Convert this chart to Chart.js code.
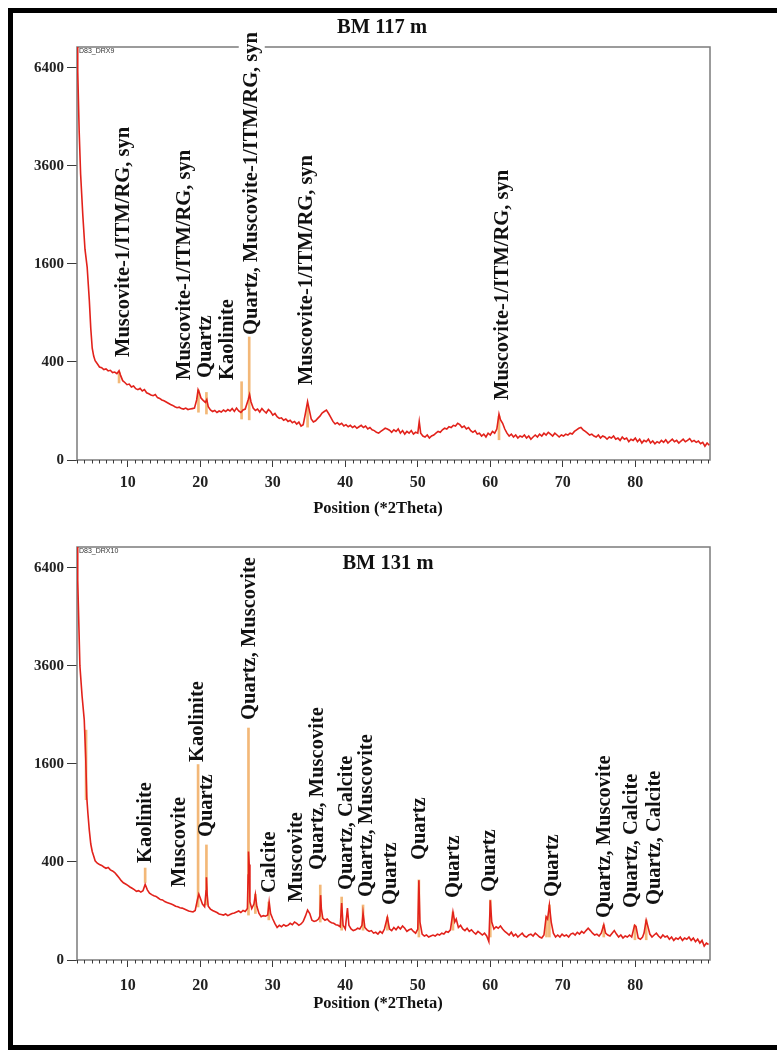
<!DOCTYPE html>
<html><head><meta charset="utf-8">
<script src="https://cdn.jsdelivr.net/npm/chart.js@4.4.1/dist/chart.umd.min.js"></script>
<style>
html,body{margin:0;padding:0;background:#fff;overflow:hidden;width:777px;height:1050px;}
#frame{position:absolute;left:8px;top:8px;width:800px;height:1042px;border:5px solid #000;box-sizing:border-box;pointer-events:none;}
canvas{position:absolute;left:0;}
#c1{top:0;} #c2{top:525px;}
</style></head><body>
<canvas id="c1" width="777" height="525"></canvas>
<canvas id="c2" width="777" height="525"></canvas>
<div id="frame"></div>
<script>
// ---------- axis ticks ----------
const xTicks = [10, 20, 30, 40, 50, 60, 70, 80];
const yTicks = [0, 400, 1600, 3600, 6400];

// ---------- BM 117 m : pattern (Position °2Theta, counts) ----------
const bm117Theta = [
 3.0,3.1,3.3,3.5,3.8,4.1,4.4,4.7,4.9,5.1,
 5.3,5.5,5.8,6.1,6.4,6.7,7.0,7.3,7.6,7.9,
 8.2,8.5,8.8,9.0,9.3,9.6,9.9,10.2,10.5,10.8,
 11.1,11.4,11.7,12.0,12.3,12.6,12.9,13.2,13.5,13.8,
 14.1,14.4,14.7,15.0,15.3,15.6,15.9,16.2,16.5,16.8,
 17.1,17.4,17.7,18.0,18.3,18.6,18.9,19.2,19.5,19.7,
 19.9,20.1,20.4,20.7,20.9,21.1,21.4,21.7,22.0,22.3,
 22.6,22.9,23.2,23.5,23.8,24.1,24.4,24.7,25.0,25.3,
 25.6,25.9,26.2,26.6,26.8,27.0,27.3,27.6,27.9,28.2,
 28.5,28.8,29.1,29.4,29.7,30.0,30.3,30.6,30.9,31.2,
 31.5,31.8,32.1,32.4,32.7,33.0,33.3,33.6,33.9,34.2,
 34.5,34.8,35.0,35.3,35.6,35.9,36.2,36.5,36.8,37.1,
 37.4,37.7,38.0,38.3,38.6,38.9,39.2,39.5,39.8,40.1,
 40.4,40.7,41.0,41.3,41.6,41.9,42.2,42.5,42.8,43.1,
 43.4,43.7,44.0,44.3,44.6,44.9,45.2,45.5,45.8,46.1,
 46.4,46.7,47.0,47.3,47.6,47.9,48.2,48.5,48.8,49.1,
 49.4,49.7,50.0,50.2,50.4,50.7,51.0,51.3,51.6,51.9,
 52.2,52.5,52.8,53.1,53.4,53.7,54.0,54.3,54.6,54.9,
 55.2,55.5,55.8,56.1,56.4,56.7,57.0,57.3,57.6,57.9,
 58.2,58.5,58.8,59.1,59.4,59.7,60.0,60.3,60.6,60.9,
 61.2,61.4,61.7,62.0,62.3,62.6,62.9,63.2,63.5,63.8,
 64.1,64.4,64.7,65.0,65.3,65.6,65.9,66.2,66.5,66.8,
 67.1,67.4,67.7,68.0,68.3,68.6,68.9,69.2,69.5,69.8,
 70.1,70.4,70.7,71.0,71.3,71.6,71.9,72.2,72.5,72.8,
 73.1,73.4,73.7,74.0,74.3,74.6,74.9,75.2,75.5,75.8,
 76.1,76.4,76.7,77.0,77.3,77.6,77.9,78.2,78.5,78.8,
 79.1,79.4,79.7,80.0,80.3,80.6,80.9,81.2,81.5,81.8,
 82.1,82.4,82.7,83.0,83.3,83.6,83.9,84.2,84.5,84.8,
 85.1,85.4,85.7,86.0,86.3,86.6,86.9,87.2,87.5,87.8,
 88.1,88.4,88.7,89.0,89.3,89.6,89.9,90.2
];
const bm117Counts = [
 7400,6300,4500,3400,2500,1850,1550,1060,720,520,
 450,410,385,360,355,340,345,330,335,318,
 322,310,332,300,262,250,236,240,222,228,
 212,206,214,198,206,188,183,176,172,178,
 162,158,150,146,140,134,128,124,118,114,
 116,110,108,112,106,108,110,112,150,205,
 185,160,148,138,152,118,104,98,102,94,
 100,96,104,98,106,100,110,98,112,100,
 94,104,108,150,178,140,112,102,108,96,
 110,100,92,106,98,84,90,78,72,74,
 66,70,62,66,58,62,54,60,48,52,
 90,142,110,70,60,64,72,80,92,98,
 104,90,76,62,54,58,52,56,48,52,
 46,50,44,48,42,46,50,44,48,40,
 44,38,36,32,30,34,38,42,40,37,
 32,38,34,40,30,36,28,34,30,36,
 28,32,30,62,30,24,22,26,20,24,
 26,30,34,32,38,42,40,46,44,50,
 48,56,52,44,48,40,44,36,32,36,
 28,30,24,28,22,30,26,34,30,40,
 88,68,56,40,30,24,28,22,26,20,
 24,22,26,20,24,18,22,26,22,28,
 24,30,26,32,28,24,30,26,22,26,
 24,28,26,30,28,34,38,42,44,38,
 34,30,26,28,24,22,26,20,24,22,
 18,22,20,24,18,20,16,22,18,20,
 14,18,16,20,14,18,12,16,14,18,
 12,15,11,14,12,16,13,17,12,15,
 18,14,16,12,15,18,14,16,19,14,
 16,13,15,11,13,8,12,9
];
// reference sticks
const bm117StickTheta = [8.8, 19.75, 20.85, 25.7, 26.75, 34.8, 61.2];
const bm117StickLow   = [247, 95, 88, 70, 67, 45, 17];
const bm117StickHigh  = [322, 204, 190, 255, 630, 120, 80];
// phase labels
const bm117LabelText  = ["Muscovite-1/ITM/RG, syn", "Muscovite-1/ITM/RG, syn", "Quartz", "Kaolinite",
                         "Quartz, Muscovite-1/ITM/RG, syn", "Muscovite-1/ITM/RG, syn", "Muscovite-1/ITM/RG, syn"];
const bm117LabelTheta = [9.38, 17.86, 20.76, 23.79, 27.1, 34.69, 61.72];
const bm117LabelAt    = [442, 267, 280, 267, 651, 234, 150];

// ---------- BM 131 m ----------
const bm131Theta = [
 3.0,3.1,3.4,3.7,4.0,4.2,4.35,4.5,4.7,4.9,
 5.1,5.3,5.5,5.8,6.1,6.4,6.7,7.0,7.3,7.6,
 7.9,8.2,8.5,8.8,9.1,9.4,9.7,10.0,10.3,10.6,
 10.9,11.2,11.5,11.8,12.1,12.4,12.7,13.0,13.3,13.6,
 13.9,14.2,14.5,14.8,15.1,15.4,15.7,16.0,16.3,16.6,
 16.9,17.2,17.5,17.8,18.1,18.4,18.7,19.0,19.3,19.6,
 19.8,20.0,20.3,20.6,20.8,20.85,20.95,21.1,21.4,21.7,
 22.0,22.3,22.6,22.9,23.2,23.5,23.8,24.1,24.4,24.7,
 25.0,25.3,25.6,25.9,26.2,26.5,26.6,26.65,26.75,26.85,
 27.1,27.4,27.6,27.8,28.1,28.4,28.7,29.0,29.3,29.5,
 29.7,30.0,30.3,30.6,30.9,31.2,31.5,31.8,32.1,32.4,
 32.7,33.0,33.3,33.6,33.9,34.2,34.5,34.8,35.1,35.4,
 35.7,36.0,36.3,36.5,36.6,36.7,36.9,37.2,37.5,37.8,
 38.1,38.4,38.7,39.0,39.3,39.5,39.7,40.0,40.3,40.5,
 40.8,41.1,41.4,41.7,42.0,42.3,42.45,42.7,43.0,43.3,
 43.6,43.9,44.2,44.5,44.8,45.1,45.4,45.8,46.1,46.4,
 46.7,47.0,47.3,47.6,47.9,48.2,48.5,48.8,49.1,49.4,
 49.7,50.0,50.15,50.3,50.6,50.9,51.2,51.5,51.8,52.1,
 52.4,52.7,53.0,53.3,53.6,53.9,54.2,54.5,54.85,55.1,
 55.3,55.6,55.9,56.2,56.5,56.8,57.1,57.4,57.7,58.0,
 58.3,58.6,58.9,59.2,59.5,59.8,60.0,60.2,60.5,60.8,
 61.1,61.4,61.7,62.0,62.3,62.6,62.9,63.2,63.5,63.8,
 64.1,64.4,64.7,65.0,65.3,65.6,65.9,66.2,66.5,66.8,
 67.1,67.4,67.7,67.9,68.15,68.4,68.7,69.0,69.3,69.6,
 69.9,70.2,70.5,70.8,71.1,71.4,71.7,72.0,72.3,72.6,
 72.9,73.2,73.5,73.8,74.1,74.4,74.7,75.0,75.3,75.65,
 75.9,76.2,76.5,76.8,77.1,77.4,77.7,78.0,78.3,78.6,
 78.9,79.2,79.5,79.9,80.1,80.4,80.7,81.0,81.2,81.5,
 81.7,82.0,82.3,82.6,82.9,83.2,83.5,83.8,84.1,84.4,
 84.7,85.0,85.3,85.6,85.9,86.2,86.5,86.8,87.1,87.4,
 87.7,88.0,88.3,88.6,88.9,89.2,89.5,89.8,90.1
];
const bm131Counts = [
 7400,6000,3600,2900,2400,1700,1100,900,700,560,
 490,450,410,390,380,372,360,350,356,338,
 330,318,300,282,262,248,240,232,222,214,
 206,196,200,192,200,238,205,186,178,172,
 168,160,152,150,142,138,134,130,126,120,
 118,114,112,108,104,100,98,96,102,150,
 180,160,130,118,200,285,180,120,108,102,
 98,94,88,86,84,88,82,86,90,92,
 96,100,94,102,98,110,300,490,380,140,
 110,130,178,120,90,78,82,80,84,140,
 90,70,55,44,50,46,52,48,50,56,
 52,60,56,50,54,62,80,104,90,66,
 62,64,70,80,175,110,72,66,70,62,
 58,56,52,50,46,135,50,40,112,50,
 40,36,38,42,40,50,92,44,38,34,
 36,30,32,28,34,30,40,76,40,36,
 44,38,46,40,48,42,34,38,40,34,
 30,40,265,60,28,24,26,22,24,26,
 24,28,26,30,28,34,32,38,96,60,
 70,44,50,40,36,42,34,38,32,28,
 34,30,26,30,24,14,148,60,40,46,
 42,48,40,34,30,26,32,24,28,22,
 26,30,24,22,26,28,24,30,26,22,
 20,26,78,70,126,60,30,22,26,22,
 28,24,26,22,28,30,26,32,28,34,
 30,36,42,36,30,26,28,24,30,52,
 30,26,24,30,36,28,22,26,20,24,
 22,26,22,50,46,20,18,22,30,66,
 50,28,22,26,30,24,20,26,22,24,
 18,22,16,20,18,22,16,20,18,22,
 16,20,14,18,12,16,8,12,10
];
const bm131StickTheta = [4.25, 12.4, 19.7, 20.85, 26.65, 27.6, 29.45, 36.55, 39.5, 42.45, 45.8, 50.15, 54.85, 60.0, 67.75, 68.15, 75.65, 79.95, 81.5];
const bm131StickLow   = [1070, 250, 117, 126, 84, 90, 67, 60, 37, 37, 37, 22, 37, 22, 22, 22, 22, 17, 17];
const bm131StickHigh  = [2200, 352, 1590, 551, 2240, 180, 140, 234, 165, 126, 77, 267, 96, 150, 77, 126, 51, 51, 67];
const bm131LabelText  = ["Kaolinite", "Muscovite", "Kaolinite", "Quartz", "Quartz, Muscovite", "Calcite", "Muscovite",
                         "Quartz, Muscovite", "Quartz, Calcite", "Quartz, Muscovite", "Quartz", "Quartz", "Quartz",
                         "Quartz", "Quartz", "Quartz, Muscovite", "Quartz, Calcite", "Quartz, Calcite"];
const bm131LabelTheta = [12.41, 17.1, 19.66, 20.9, 26.83, 29.59, 33.31, 36.2, 40.2, 42.97, 46.28, 50.28, 54.97, 59.93, 68.62, 75.79, 79.52, 82.69];
const bm131LabelAt    = [392, 222, 1633, 630, 2399, 187, 140, 337, 204, 165, 126, 416, 160, 193, 165, 73, 113, 126];

// ---------- style ----------
const SERIF = '"Liberation Serif", "Times New Roman", serif';
const RED = '#e2221b';
const ORANGE = '#f3b878';
const FRAME = '#7b7b7b';
const TICK = '#3a3a3a';

// square-root intensity scale
class SqrtScale extends Chart.LinearScale {
  static id = 'sqrt';
  static defaults = Chart.LinearScale.defaults;
  configure() {
    super.configure();
    this._s0 = Math.sqrt(Math.max(0, this.min));
    this._s1 = Math.sqrt(Math.max(0, this.max));
  }
  getPixelForValue(value) {
    if (value === null || value === undefined || isNaN(value)) return NaN;
    const s = Math.sqrt(Math.max(0, value));
    return this.getPixelForDecimal((s - this._s0) / (this._s1 - this._s0));
  }
  getValueForPixel(pixel) {
    const d = this.getDecimalForPixel(pixel);
    const s = this._s0 + d * (this._s1 - this._s0);
    return s * s;
  }
}
Chart.register(SqrtScale);

function overlay(cfg) {
  return {
    id: 'overlay',
    beforeDatasetsDraw(chart) {
      const { ctx, chartArea: a } = chart;
      ctx.save();
      ctx.strokeStyle = FRAME; ctx.lineWidth = 1.5;
      ctx.strokeRect(a.left, a.top, a.right - a.left, a.bottom - a.top);
      ctx.restore();
    },
    afterDraw(chart) {
      const { ctx, chartArea: a, scales } = chart;
      const x = scales.x, y = scales.y;
      ctx.save();
      // minor ticks every degree
      ctx.strokeStyle = TICK; ctx.lineWidth = 1;
      ctx.beginPath();
      for (let v = Math.ceil(x.min); v <= Math.floor(x.max); v++) {
        if (xTicks.includes(v)) continue;
        const px = Math.round(x.getPixelForValue(v)) + 0.5;
        ctx.moveTo(px, a.bottom); ctx.lineTo(px, a.bottom + 3.5);
      }
      ctx.stroke();
      // file tag
      ctx.fillStyle = '#333'; ctx.font = '7px "Liberation Sans", sans-serif';
      ctx.textAlign = 'left'; ctx.textBaseline = 'top';
      ctx.fillText(cfg.tag, a.left + 2, a.top + 1);
      // titles
      ctx.fillStyle = '#111'; ctx.textAlign = 'center'; ctx.textBaseline = 'middle';
      ctx.font = 'bold 20.5px ' + SERIF;
      ctx.fillText(cfg.title, cfg.titleX, cfg.titleY);
      ctx.font = 'bold 16.5px ' + SERIF;
      ctx.fillText('Position (*2Theta)', cfg.axisTitleX, cfg.axisTitleY);
      // phase labels
      ctx.font = 'bold 20.5px ' + SERIF;
      ctx.textAlign = 'left'; ctx.textBaseline = 'middle';
      cfg.labelText.forEach((t, i) => {
        const px = x.getPixelForValue(cfg.labelTheta[i]);
        const py = y.getPixelForValue(cfg.labelAt[i]);
        const w = ctx.measureText(t).width;
        if (py - w - 2 < a.top) {
          ctx.fillStyle = '#fff';
          ctx.fillRect(px - 13, py - w - 4, 26, w + 4);
        }
        ctx.save();
        ctx.translate(px, py); ctx.rotate(-Math.PI / 2);
        ctx.fillStyle = '#111';
        ctx.fillText(t, 0, 0);
        ctx.restore();
      });
      ctx.restore();
    }
  };
}

function buildChart(id, s, L) {
  const lineData = s.theta.map((t, i) => ({ x: t, y: s.counts[i] }));
  const stickData = s.stickTheta.map((t, i) => ({ x: t, y: [s.stickLow[i], s.stickHigh[i]] }));
  return new Chart(document.getElementById(id), {
    type: 'line',
    data: {
      datasets: [
        { type: 'line', data: lineData, borderColor: RED, borderWidth: 1.6, pointRadius: 0,
          tension: 0, fill: false, order: 1 },
        { type: 'bar', data: stickData, backgroundColor: ORANGE, barThickness: 2,
          grouped: false, borderWidth: 0, order: 2 }
      ]
    },
    options: {
      responsive: false, animation: false, devicePixelRatio: 1,
      layout: { padding: { left: 0, right: 67, top: L.padTop, bottom: 0 } },
      plugins: { legend: { display: false }, tooltip: { enabled: false }, title: { display: false } },
      scales: {
        x: {
          type: 'linear', min: 3, max: 90.3, offset: false,
          afterBuildTicks: sc => { sc.ticks = xTicks.map(v => ({ value: v })); },
          afterFit: sc => { sc.height = L.xAxisHeight; },
          grid: { drawOnChartArea: false, drawTicks: true, tickLength: 7, color: TICK, lineWidth: 1, offset: false },
          border: { display: false },
          ticks: { callback: v => String(v), font: { family: SERIF, size: 16, weight: 'bold' },
                   color: '#222', padding: L.xTickPad, maxRotation: 0, autoSkip: false }
        },
        y: {
          type: 'sqrt', min: 0, max: 7100, bounds: 'data',
          afterBuildTicks: sc => { sc.ticks = yTicks.map(v => ({ value: v })); },
          afterFit: sc => { sc.width = 77; },
          grid: { drawOnChartArea: false, drawTicks: true, tickLength: 10, color: TICK, lineWidth: 1 },
          border: { display: false },
          ticks: { callback: v => String(v), font: { family: SERIF, size: 15, weight: 'bold' },
                   color: '#222', padding: 3, autoSkip: false }
        }
      }
    },
    plugins: [overlay(L)]
  });
}

buildChart('c1', {
  theta: bm117Theta, counts: bm117Counts,
  stickTheta: bm117StickTheta, stickLow: bm117StickLow, stickHigh: bm117StickHigh
}, {
  padTop: 47, xAxisHeight: 65, xTickPad: 6,
  title: 'BM 117 m', titleX: 382, titleY: 28, axisTitleX: 378, axisTitleY: 509, tag: 'D83_DRX9',
  labelText: bm117LabelText, labelTheta: bm117LabelTheta, labelAt: bm117LabelAt
});

buildChart('c2', {
  theta: bm131Theta, counts: bm131Counts,
  stickTheta: bm131StickTheta, stickLow: bm131StickLow, stickHigh: bm131StickHigh
}, {
  padTop: 22, xAxisHeight: 90, xTickPad: 9,
  title: 'BM 131 m', titleX: 388, titleY: 39, axisTitleX: 378, axisTitleY: 479, tag: 'D83_DRX10',
  labelText: bm131LabelText, labelTheta: bm131LabelTheta, labelAt: bm131LabelAt
});
</script></body></html>
